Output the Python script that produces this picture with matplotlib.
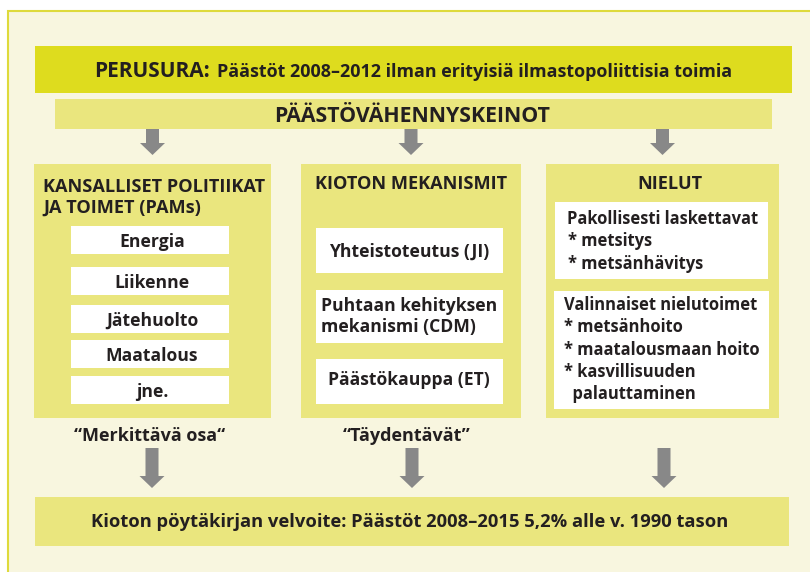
from matplotlib import pyplot as plt
from matplotlib.patches import Rectangle, FancyArrow

plt.rcParams['font.family'] = ['Open Sans', 'DejaVu Sans']
plt.rcParams['font.weight'] = 'bold'

# texts of the diagram
baseline_head = 'PERUSURA:'
baseline_text = 'Päästöt 2008–2012 ilman erityisiä ilmastopoliittisia toimia'
means_title = 'PÄÄSTÖVÄHENNYSKEINOT'
column_titles = ['KANSALLISET POLITIIKAT\nJA TOIMET (PAMs)', 'KIOTON MEKANISMIT', 'NIELUT']
pams = ['Energia', 'Liikenne', 'Jätehuolto', 'Maatalous', 'jne.']
mechanisms = ['Yhteistoteutus (JI)', 'Puhtaan kehityksen\nmekanismi (CDM)', 'Päästökauppa (ET)']
sinks_mandatory = ['Pakollisesti laskettavat', '* metsitys', '* metsänhävitys']
sinks_optional = ['Valinnaiset nielutoimet', '* metsänhoito', '* maatalousmaan hoito',
                  '* kasvillisuuden', '  palauttaminen']
column_notes = ['“Merkittävä osa“', '“Täydentävät”', '']
target_text = 'Kioton pöytäkirjan velvoite: Päästöt 2008–2015 5,2% alle v. 1990 tason'

BG = '#F8F6DF'
BORDER = '#DEDA3C'
STRONG = '#DEDC1E'
LIGHT = '#EAE67E'
GREY = '#888888'
INK = '#231F20'

fig = plt.figure(figsize=(8.1, 5.72), dpi=100)
ax = fig.add_axes([0, 0, 1, 1])
ax.set_xlim(0, 810)
ax.set_ylim(572, 0)
ax.axis('off')


def box(x0, y0, x1, y1, color):
    ax.add_patch(Rectangle((x0, y0), x1 - x0, y1 - y0, facecolor=color, edgecolor='none'))


def arrow(x, y0, y1):
    ax.add_patch(FancyArrow(x, y0, 0, y1 - y0, width=13, head_width=25, head_length=12,
                            length_includes_head=True, facecolor=GREY, edgecolor='none'))


# frame
ax.add_patch(Rectangle((8, 11), 810, 570, facecolor=BG, edgecolor=BORDER, lw=1.5))

# top bars
box(35, 46, 792, 93, STRONG)
t = ax.text(94, 77, baseline_head, fontsize=15.0, color=INK, va='baseline')
fig.canvas.draw()
bb = t.get_window_extent().transformed(ax.transData.inverted())
ax.text(bb.x1 + 7, 77, baseline_text, fontsize=12.9, color=INK, va='baseline')

box(55, 99, 772, 129, LIGHT)
ax.text(412, 122, means_title, fontsize=15.3, color=INK, va='baseline', ha='center')

# columns
col_x = [(34, 271), (301, 521), (546, 779)]
for (x0, x1) in col_x:
    box(x0, 164, x1, 418, LIGHT)
    arrow((x0 + x1) / 2, 129, 155)

ax.text(43, 213, column_titles[0], fontsize=13.1, color=INK, va='baseline',
        linespacing=1.25)
ax.text(411, 189, column_titles[1], fontsize=13.1, color=INK, va='baseline', ha='center')
ax.text(670, 189, column_titles[2], fontsize=13.1, color=INK, va='baseline', ha='center')

# national measures
pam_boxes = [(226, 254), (267, 295), (305, 333), (340, 368), (376, 404)]
for label, (y0, y1) in zip(pams, pam_boxes):
    box(71, y0, 229, y1, 'white')
    ax.text(152, y1 - 7, label, fontsize=12.6, color=INK, va='baseline', ha='center')

# Kyoto mechanisms
mech_boxes = [(228, 273), (290, 343), (359, 404)]
mech_base = [257, 332, 385]
for label, (y0, y1), yb in zip(mechanisms, mech_boxes, mech_base):
    box(316, y0, 503, y1, 'white')
    ax.text(409, yb, label, fontsize=12.6, color=INK, va='baseline', ha='center',
            multialignment='left', linespacing=1.2)

# sinks
box(555, 202, 768, 279, 'white')
for i, line in enumerate(sinks_mandatory):
    ax.text(567 if i == 0 else 568, 224 + 22.5 * i, line, fontsize=11.9, color=INK, va='baseline')
box(554, 291, 769, 409, 'white')
for i, line in enumerate(sinks_optional):
    ax.text(564, 310 + 22.3 * i, line, fontsize=11.9, color=INK, va='baseline')

# notes and arrows to the target
note_x = [150, 407, 664]
arrow_x = [152, 412, 664]
for note, xn, xa in zip(column_notes, note_x, arrow_x):
    if note:
        ax.text(xn, 441, note, fontsize=13, color=INK, va='baseline', ha='center')
    arrow(xa, 448, 488)

box(35, 497, 789, 546, LIGHT)
ax.text(410, 527, target_text, fontsize=13.2, color=INK, va='baseline', ha='center')

plt.savefig('out.png', dpi=100)
